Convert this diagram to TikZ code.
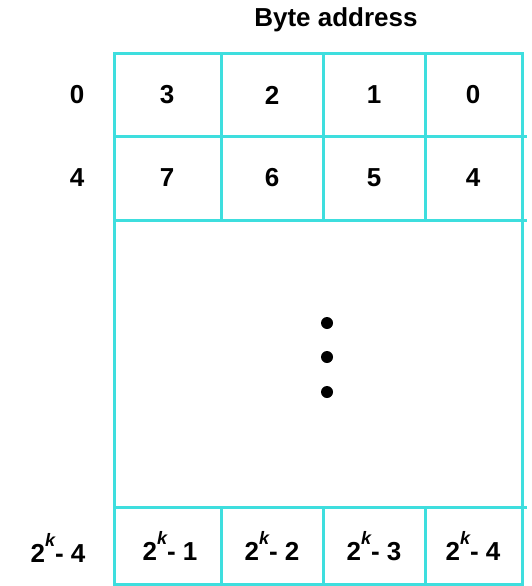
\documentclass[tikz,border=0pt]{standalone}
\usepackage{fontspec}
\setmainfont{Liberation Sans}
\usetikzlibrary{positioning}
\definecolor{memline}{RGB}{62,222,222}
\newcommand{\twok}{2\raisebox{0.62em}{\fontsize{18}{18}\selectfont\itshape k}}

\begin{document}
\begin{tikzpicture}[x=1pt,y=1pt,
  wall/.style={line width=3pt,memline},
  num/.style={font=\bfseries\fontsize{26}{30}\selectfont,inner sep=0pt},
  dot/.style={circle,fill=black,inner sep=0pt,minimum size=12pt}]
\useasboundingbox (0,0) rectangle (531,-586);
% heading
\node[num] (head) at (336,-20) {Byte address};
% frame and row lines
\draw[wall] (114,-54) rectangle (522,-584);
\draw[wall] (114,-136) -- (527,-136);
\draw[wall] (114,-220) -- (527,-220);
\draw[wall] (114,-507) -- (527,-507);
% column lines, top two words and last word
\foreach \cx in {221,323,425} {
  \draw[wall] (\cx,-54) -- (\cx,-220);
  \draw[wall] (\cx,-507) -- (\cx,-584);
}
% word addresses
\node[num] (w0) at (77,-95) {0};
\node[num] (w4) at (77,-178) {4};
\node[num] (wk) at (58,-548) {\twok- 4};
% byte numbers, first word
\node[num] (b3) at (167,-95) {3};
\node[num] (b2) at (272,-95) {2};
\node[num] (b1) at (374,-95) {1};
\node[num] (b0) at (473,-95) {0};
% second word
\node[num] (b7) at (167,-178) {7};
\node[num] (b6) at (272,-178) {6};
\node[num] (b5) at (374,-178) {5};
\node[num] (b4) at (473,-178) {4};
% last word
\node[num] (k1) at (170,-546) {\twok- 1};
\node[num] (k2) at (272,-546) {\twok- 2};
\node[num] (k3) at (374,-546) {\twok- 3};
\node[num] (k4) at (473,-546) {\twok- 4};
% gap in between
\node[dot] (d1) at (327,-323) {};
\node[dot] (d2) at (327,-357) {};
\node[dot] (d3) at (327,-392) {};
\end{tikzpicture}
\end{document}
